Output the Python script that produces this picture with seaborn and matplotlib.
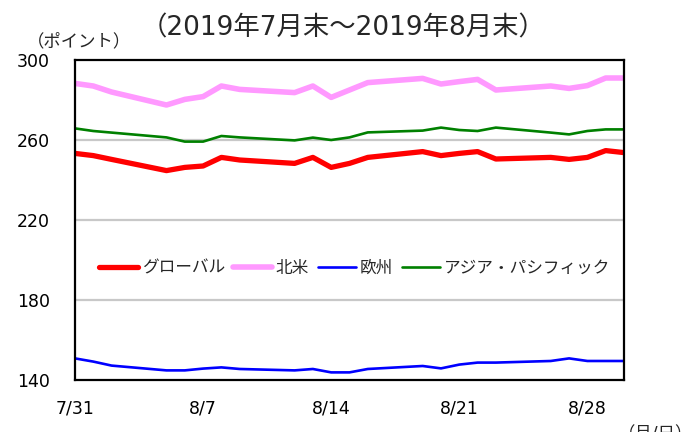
import pandas as pd
import matplotlib
matplotlib.use("Agg")
import matplotlib.pyplot as plt
import seaborn as sns

# data
dates = ['2019-07-31', '2019-08-01', '2019-08-02', '2019-08-05', '2019-08-06', '2019-08-07',
         '2019-08-08', '2019-08-09', '2019-08-12', '2019-08-13', '2019-08-14', '2019-08-15',
         '2019-08-16', '2019-08-19', '2019-08-20', '2019-08-21', '2019-08-22', '2019-08-23',
         '2019-08-26', '2019-08-27', '2019-08-28', '2019-08-29', '2019-08-30']
global_vals = [253.3, 252.2, 250.3, 244.7, 246.3, 247.0, 251.3, 250.0, 248.3, 251.3, 246.3, 248.3,
               251.3, 254.2, 252.2, 253.3, 254.2, 250.5, 251.3, 250.3, 251.3, 254.7, 253.7]
na_vals = [288.3, 287.0, 284.0, 277.5, 280.3, 281.7, 287.0, 285.3, 283.7, 287.0, 281.3, 285.0,
           288.7, 290.8, 288.0, 289.2, 290.3, 285.0, 287.0, 285.8, 287.2, 291.0, 291.0]
eu_vals = [150.8, 149.2, 147.2, 144.8, 144.8, 145.7, 146.3, 145.5, 144.8, 145.5, 143.8, 143.8,
           145.5, 147.0, 145.8, 147.7, 148.7, 148.7, 149.5, 150.8, 149.5, 149.5, 149.5]
ap_vals = [265.8, 264.5, 263.7, 261.3, 259.2, 259.2, 262.0, 261.3, 259.8, 261.2, 260.0, 261.3,
           263.8, 264.7, 266.2, 265.0, 264.5, 266.2, 263.7, 262.8, 264.5, 265.3, 265.3]
series_names = ['グローバル', '北米', '欧州', 'アジア・パシフィック']
tick_dates = ['2019-07-31', '2019-08-07', '2019-08-14', '2019-08-21', '2019-08-28']
tick_labels = ['7/31', '8/7', '8/14', '8/21', '8/28']
yticks = [140, 180, 220, 260, 300]

sns.set_style("white")
plt.rcParams['font.family'] = ['DejaVu Sans', 'Noto Sans CJK JP']

df = pd.DataFrame({'date': pd.to_datetime(dates)})
for name, vals in zip(series_names, [global_vals, na_vals, eu_vals, ap_vals]):
    df[name] = vals
df_long = df.melt(id_vars='date', var_name='region', value_name='value')

colors = ['#FF0000', '#FF99FF', '#0000FF', '#008000']
widths = [3.8, 4.0, 1.9, 1.9]

fig = plt.figure(figsize=(6.86, 4.32), dpi=100)
ax = fig.add_axes([0.1093, 0.1204, 0.8003, 0.7407])

for y in [180, 220, 260]:
    ax.axhline(y, color='#C8C8C8', lw=1.6, zorder=0)

for name, c, w in zip(series_names, colors, widths):
    sns.lineplot(data=df_long[df_long['region'] == name], x='date', y='value',
                 color=c, linewidth=w, label=name, ax=ax)

ax.set_xlim(pd.Timestamp('2019-07-31'), pd.Timestamp('2019-08-30'))
ax.set_ylim(140, 300)
ax.set_yticks(yticks)
ax.set_xticks(pd.to_datetime(tick_dates))
ax.set_xticklabels(tick_labels)
ax.set_xlabel('')
ax.set_ylabel('')
ax.tick_params(axis='both', direction='in', length=6, width=1.2, color='black',
               labelsize=12.5, labelcolor='black')
ax.tick_params(axis='x', pad=14)
ax.tick_params(axis='y', pad=18, length=5)
for s in ax.spines.values():
    s.set_color('black')
    s.set_linewidth(1.6)

leg = ax.legend(loc='center', bbox_to_anchor=(0.51, 0.35), ncol=4, frameon=False,
                fontsize=12, handlelength=2.3, handletextpad=0.25, columnspacing=0.5)

fig.text(0.5, 0.935, '（2019年7月末～2019年8月末）', ha='center', va='center', fontsize=19)
fig.text(0.115, 0.905, '（ポイント）', ha='center', va='center', fontsize=12.5)
fig.text(0.9, 1 - 425 / 432, '（月/日）', ha='left', va='top', fontsize=12.5)

fig.savefig('out.png', dpi=100)
